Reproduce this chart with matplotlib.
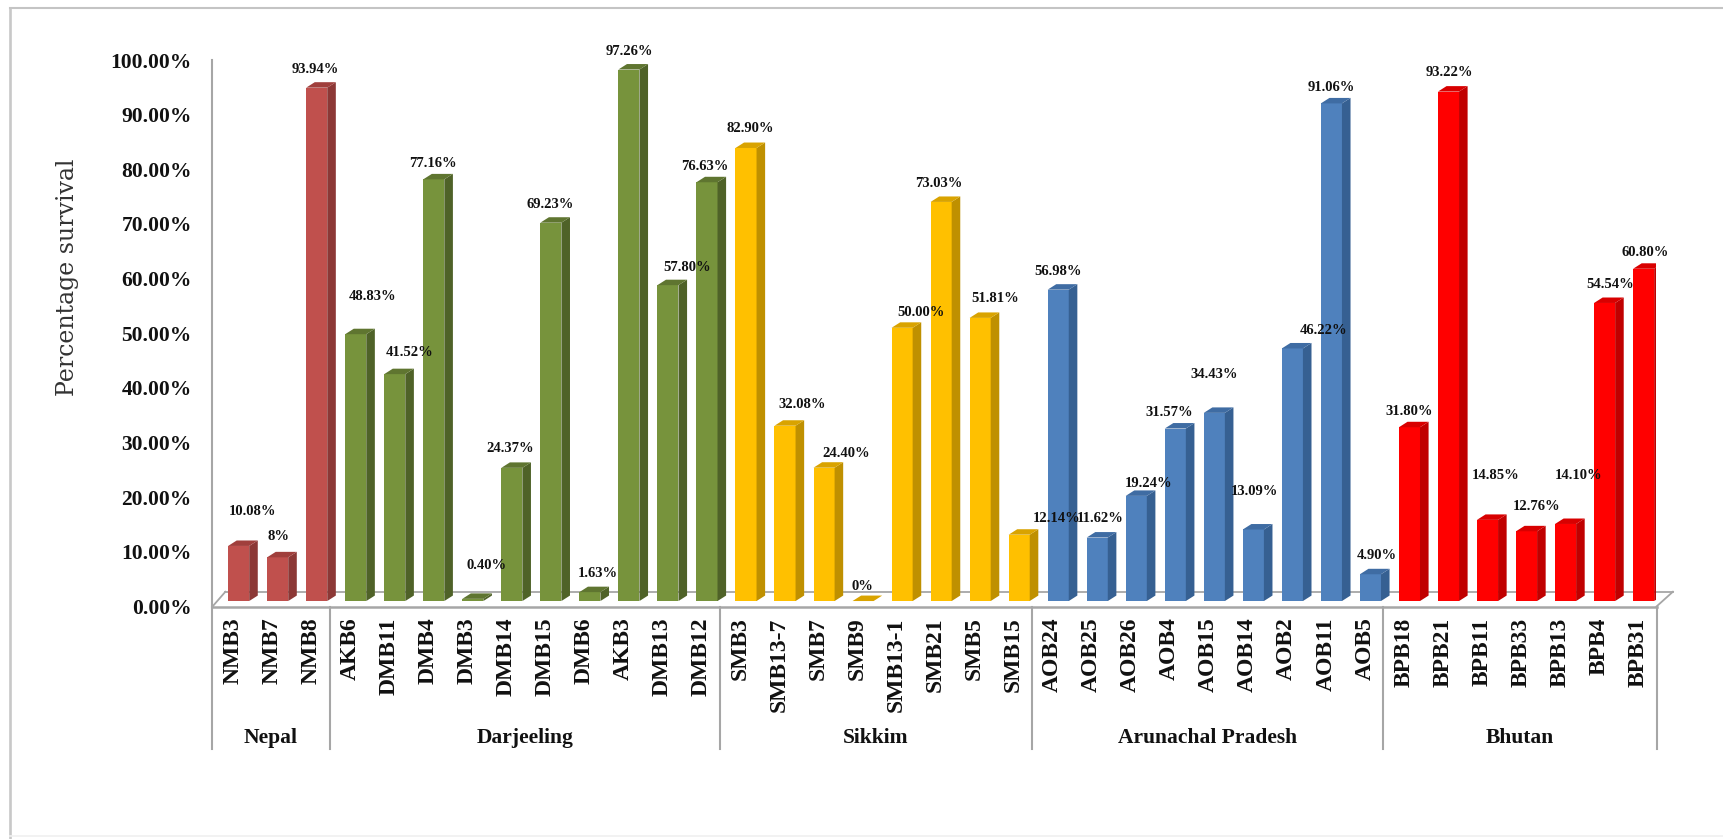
#!/usr/bin/python3

import matplotlib
matplotlib.use('Agg')
import matplotlib.pyplot as plt
from matplotlib.lines import Line2D
from matplotlib.patches import Polygon
from matplotlib.transforms import ScaledTranslation

W, H = 1724, 839

groups = ['Nepal', 'Darjeeling', 'Sikkim', 'Arunachal Pradesh', 'Bhutan']
group_sizes = [3, 10, 8, 9, 7]
isolates = ['NMB3', 'NMB7', 'NMB8',
	'AKB6', 'DMB11', 'DMB4', 'DMB3', 'DMB14', 'DMB15', 'DMB6', 'AKB3', 'DMB13', 'DMB12',
	'SMB3', 'SMB13-7', 'SMB7', 'SMB9', 'SMB13-1', 'SMB21', 'SMB5', 'SMB15',
	'AOB24', 'AOB25', 'AOB26', 'AOB4', 'AOB15', 'AOB14', 'AOB2', 'AOB11', 'AOB5',
	'BPB18', 'BPB21', 'BPB11', 'BPB33', 'BPB13', 'BPB4', 'BPB31']
survival = [10.08, 8, 93.94,
	48.83, 41.52, 77.16, 0.40, 24.37, 69.23, 1.63, 97.26, 57.80, 76.63,
	82.90, 32.08, 24.40, 0, 50.00, 73.03, 51.81, 12.14,
	56.98, 11.62, 19.24, 31.57, 34.43, 13.09, 46.22, 91.06, 4.90,
	31.80, 93.22, 14.85, 12.76, 14.10, 54.54, 60.80]
survival_text = ['10.08%', '8%', '93.94%',
	'48.83%', '41.52%', '77.16%', '0.40%', '24.37%', '69.23%', '1.63%', '97.26%', '57.80%', '76.63%',
	'82.90%', '32.08%', '24.40%', '0%', '50.00%', '73.03%', '51.81%', '12.14%',
	'56.98%', '11.62%', '19.24%', '31.57%', '34.43%', '13.09%', '46.22%', '91.06%', '4.90%',
	'31.80%', '93.22%', '14.85%', '12.76%', '14.10%', '54.54%', '60.80%']
yticks = [0, 10, 20, 30, 40, 50, 60, 70, 80, 90, 100]

# front, side and top colour of the bars in each region
face_colors = ['#C0504D', '#77933C', '#FFC000', '#4F81BD', '#FF0000']
side_colors = ['#8C3836', '#4F6228', '#BF9000', '#366092', '#C00000']
top_colors = ['#A03F3C', '#5F7530', '#D9A300', '#3F6CA3', '#D80000']

# label nudges in pixels, measured from the top centre of the bar front
label_dx = [14, 1, -1, 17, 15, -1, 14, -2, -1, 8, 0, 19, -2, 4, 17, 22, -1, 19, -2, 15, 37,
	0, 3, 12, -6, 0, 1, 31, 0, 6, 0, 1, 8, 10, 13, 6, 2]
label_dy = [34, 21, 18, 38, 22, 16, 33, 19, 18, 19, 18, 18, 16, 19, 21, 14, 15, 15, 18, 19, 16,
	18, 19, 12, 16, 38, 38, 18, 16, 19, 16, 19, 44, 25, 48, 18, 16]

BAR_SHIFT = 0.17
BAR_WIDTH = 0.54
BAR_LIFT = 1.0
DEPTH_X = 0.22
DEPTH_Y = 1.0
LINE = '#A6A6A6'

def draw_bar(ax, x, value, face, side, top):
	left = x + BAR_SHIFT - BAR_WIDTH / 2
	right = left + BAR_WIDTH
	low = BAR_LIFT
	high = BAR_LIFT + value
	ax.bar(left, value, width=BAR_WIDTH, bottom=low, align='edge', color=face, zorder=3)
	ax.add_patch(Polygon([(right, low), (right + DEPTH_X, low + DEPTH_Y),
		(right + DEPTH_X, high + DEPTH_Y), (right, high)], closed=True, color=side, lw=0, zorder=3))
	ax.add_patch(Polygon([(left, high), (right, high), (right + DEPTH_X, high + DEPTH_Y),
		(left + DEPTH_X, high + DEPTH_Y)], closed=True, color=top, lw=0, zorder=3))

def frame_line(fig, xs, ys, color, lw):
	fig.add_artist(Line2D([x / W for x in xs], [1 - y / H for y in ys],
		transform=fig.transFigure, color=color, lw=lw))

def main():
	plt.rcParams['font.family'] = ['Liberation Serif', 'DejaVu Serif']
	fig = plt.figure(figsize=(W / 100, H / 100), dpi=100)

	# border runs off the right edge, the bottom one is barely there
	frame_line(fig, [10, 10], [8, H], '#C8C8C8', 1.9)
	frame_line(fig, [10, W], [8, 8], '#C4C4C4', 1.5)
	frame_line(fig, [10, W], [836, 836], '#F0F0F0', 1.2)

	ax = fig.add_axes([212.5 / W, 1 - 606.5 / H, 1444 / W, 546.5 / H])
	ax.set_xlim(-0.5, 36.5)
	ax.set_ylim(0, 100)
	ax.patch.set_alpha(0)
	for name in ['top', 'right', 'bottom']:
		ax.spines[name].set_visible(False)
	ax.spines['left'].set_color(LINE)
	ax.spines['left'].set_linewidth(1.5)

	# floor of the 3-D plot
	ax.plot([-0.5, 36.5], [0, 0], color=LINE, lw=1.8, clip_on=False, zorder=2)
	ax.plot([-0.17, 36.92], [2.7, 2.7], color=LINE, lw=1.3, clip_on=False, zorder=1)
	ax.plot([-0.5, -0.17], [0, 2.7], color=LINE, lw=1.3, clip_on=False, zorder=1)
	ax.plot([36.5, 36.92], [0, 2.7], color=LINE, lw=1.3, clip_on=False, zorder=1)

	start = 0
	edges = [-0.5]
	for g, size in enumerate(group_sizes):
		for i in range(start, start + size):
			draw_bar(ax, i, survival[i], face_colors[g], side_colors[g], top_colors[g])
		ax.text(start + (size - 1) / 2, -24.1, groups[g], ha='center', va='center',
			fontsize=15.5, fontweight='bold', color='#111111')
		start += size
		edges.append(start - 0.5)

	# region separators run down through the label area
	for x in edges:
		ax.plot([x, x], [0, -26], color=LINE, lw=1.5, clip_on=False, zorder=2)

	for i, text in enumerate(survival_text):
		ax.annotate(text, xy=(i + BAR_SHIFT, BAR_LIFT + survival[i]),
			xytext=(label_dx[i], label_dy[i]), textcoords='offset pixels',
			ha='center', va='center', fontsize=10.5, fontweight='bold', color='#111111', zorder=5)

	ax.set_xticks(range(len(isolates)))
	ax.set_xticklabels(isolates, rotation=90, fontsize=17, fontweight='bold', color='#111111', va='top')
	ax.tick_params(axis='x', length=0, pad=8)
	nudge = ScaledTranslation(1 / 100, 0, fig.dpi_scale_trans)
	for label in ax.get_xticklabels():
		label.set_transform(label.get_transform() + nudge)

	ax.set_yticks(yticks)
	ax.set_yticklabels([f'{v:.2f}%' for v in yticks], fontsize=15.5, fontweight='bold', color='#111111')
	ax.tick_params(axis='y', length=0, pad=15)

	fig.text(68 / W, 1 - 277 / H, 'Percentage survival', rotation=90, ha='center', va='center',
		fontsize=17, family='DejaVu Serif', color='#333333')

	fig.savefig('out.png', dpi=100)

if __name__ == '__main__':
	main()
